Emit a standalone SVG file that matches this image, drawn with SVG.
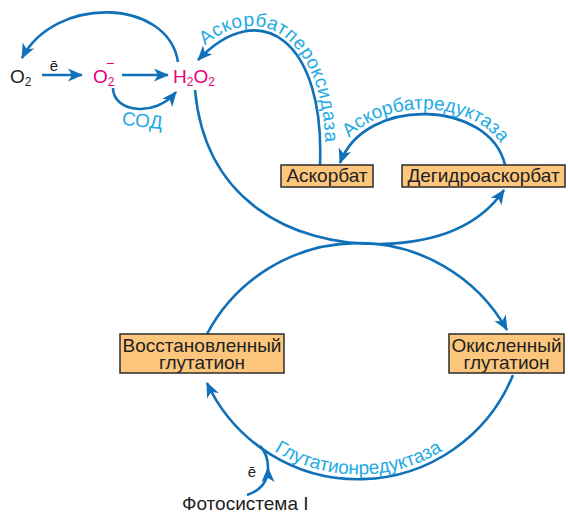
<svg xmlns="http://www.w3.org/2000/svg" width="568" height="514" viewBox="0 0 568 514">
<style>
.ln{fill:none;stroke:#1070B8;stroke-width:2.6}
.ar{marker-end:url(#ah)}
.box{fill:#FDC67D;stroke:#2B2B2B;stroke-width:1.5}
.dk{font-family:"Liberation Sans",Arial,sans-serif;font-size:19px;fill:#222}
.bt{font-family:"Liberation Sans",Arial,sans-serif;font-size:19px;fill:#222;text-anchor:middle}
.mg{font-family:"Liberation Sans",Arial,sans-serif;font-size:19px;fill:#E5007D}
.cy{font-family:"Liberation Sans",Arial,sans-serif;font-size:19px;fill:#22AAE2}
</style>
<defs>
<marker id="ah" viewBox="-15 -8 17 16" refX="0" refY="0" markerWidth="17" markerHeight="16" markerUnits="userSpaceOnUse" orient="auto">
<path d="M1,0 L-14,-6.5 L-10,0 L-14,6.5 Z" fill="#1070B8"/>
</marker>
<path id="tpPer" d="M194,56 C257,-11 331,38 325,165"/>
<path id="tpRed" d="M335,161 C362,89 494,94 510,164"/>
<path id="tpGlu" d="M265.4,445.2 A162,162 0 0 0 451.2,445.2"/>
</defs>

<g id="connectors">
<path class="ln ar" d="M42,75 L82,75"/>
<path class="ln ar" d="M122,75 L168,75"/>
<path class="ln ar" d="M113,88 C113,112 155,118 176,92"/>
<path class="ln ar" d="M178,62 C168,-2 55,-5 22,58"/>
<path class="ln ar" d="M320,165 C325,40 260,-5 198,60"/>
<path class="ln ar" d="M505,165 C490,100 365,95 340,163"/>
<path class="ln ar" d="M195,90 C205,200 290,245 380,244 C440,243 480,225 504,190"/>
<path class="ln ar" d="M207,334 A171,171 0 0 1 507,330"/>
<path class="ln ar" d="M513,375 A167,167 0 0 1 207,383"/>
<path class="ln ar" d="M247,495 C262,490 268,480 268,468"/>
<path class="ln" d="M268,468 C268,458 265,451 260,446"/>
</g>

<g id="labels">
<text class="dk" x="54" y="71" text-anchor="middle" style="font-size:15px">ē</text>
<text class="cy" x="122" y="127" transform="rotate(6 142 120)">СОД</text>
<text class="cy" letter-spacing="0.6"><textPath href="#tpPer" startOffset="15">Аскорбатпероксидаза</textPath></text>
<text class="cy"><textPath href="#tpRed" startOffset="51%" text-anchor="middle">Аскорбатредуктаза</textPath></text>
<text class="cy"><textPath href="#tpGlu" startOffset="50%" text-anchor="middle">Глутатионредуктаза</textPath></text>
<text class="dk" x="252" y="477" text-anchor="middle" style="font-size:15px">ē</text>
</g>

<g id="node-o2">
<text class="dk" x="10" y="83">O<tspan dy="3" style="font-size:12px">2</tspan></text>
</g>
<g id="node-superoxide">
<text class="mg" x="93" y="83">O<tspan dy="3" style="font-size:12px">2</tspan></text>
<text class="mg" x="110" y="68" text-anchor="middle" style="font-size:14px">−</text>
</g>
<g id="node-h2o2">
<text class="mg" x="173" y="83">H<tspan dy="3" style="font-size:12px">2</tspan><tspan dy="-3">O</tspan><tspan dy="3" style="font-size:12px">2</tspan></text>
</g>
<g id="node-ascorbate">
<rect class="box" x="281" y="165" width="92" height="22"/>
<text class="bt" x="327" y="182">Аскорбат</text>
</g>
<g id="node-dehydroascorbate">
<rect class="box" x="402" y="165" width="163" height="22"/>
<text class="bt" x="483.5" y="182">Дегидроаскорбат</text>
</g>
<g id="node-reduced-glutathione">
<rect class="box" x="120" y="334" width="164" height="39"/>
<text class="bt" x="202" y="352">Восстановленный</text>
<text class="bt" x="202" y="369">глутатион</text>
</g>
<g id="node-oxidized-glutathione">
<rect class="box" x="449" y="334" width="115" height="39"/>
<text class="bt" x="506.5" y="352">Окисленный</text>
<text class="bt" x="506.5" y="369">глутатион</text>
</g>
<g id="node-photosystem">
<text class="dk" x="182" y="510">Фотосистема I</text>
</g>
</svg>
